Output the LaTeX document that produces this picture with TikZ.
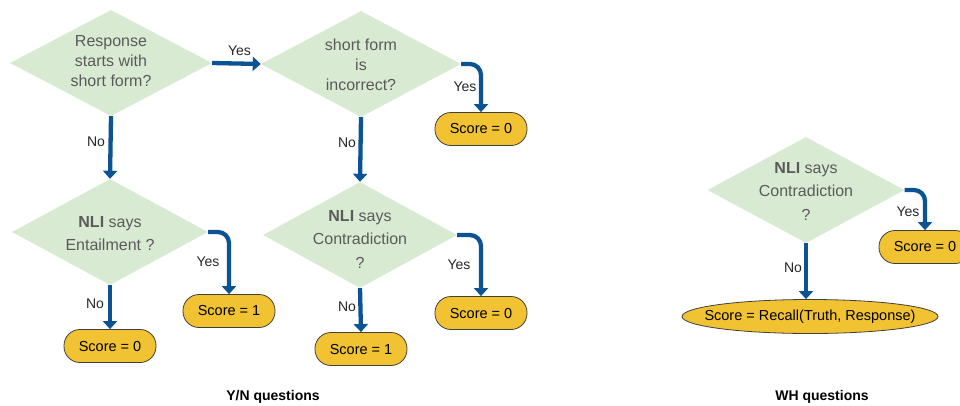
\documentclass[tikz,border=0pt]{standalone}
\usepackage{fontspec}
\setmainfont{Liberation Sans}
\usetikzlibrary{arrows.meta,shapes.geometric}
\definecolor{diafill}{HTML}{D9EAD3}
\definecolor{diatext}{HTML}{5A5A5A}
\definecolor{scorefill}{HTML}{F1C232}
\definecolor{arrowblue}{HTML}{0B5394}
\tikzset{
  x=1pt,y=-1pt,
  dia/.style={diamond,fill=diafill,draw=none,inner sep=0pt,minimum width=#1,minimum height=106pt,aspect=1.9},
  dtext/.style={align=center,text=diatext,font=\fontsize{16}{20}\selectfont,inner sep=0pt},
  dtextb/.style={align=center,text=diatext,font=\fontsize{16}{23.5}\selectfont,inner sep=0pt},
  score/.style={draw=black!75,line width=0.8pt,fill=scorefill,rounded corners=16pt,minimum width=92pt,minimum height=33pt,inner sep=0pt,font=\fontsize{14.5}{17}\selectfont},
  flow/.style={draw=arrowblue,line width=4.3pt,-{Triangle[length=8pt,width=14pt]}},
  bendflow/.style={flow,rounded corners=11pt},
  lab/.style={font=\fontsize{14}{16}\selectfont,text=black!85,inner sep=0pt},
  captext/.style={font=\bfseries\fontsize{14}{16}\selectfont,inner sep=0pt}
}
\begin{document}
\begin{tikzpicture}
\useasboundingbox (0,0) rectangle (960,405);
% Y/N section
\node[dia=202pt] (d1) at (111,63) {};
\node[dtext] (t1) at (111,61) {Response\\starts with\\short form?};
\node[dia=200pt] (d2) at (361,64) {};
\node[dtext] (t2) at (361,65) {short form\\is\\incorrect?};
\node[score] (s2) at (481,129) {Score = 0};
\node[dia=196pt] (d3) at (110,232) {};
\node[dtextb] (t3) at (110,233.5) {\textbf{NLI} says\\Entailment ?};
\node[score] (s3y) at (229,311) {Score = 1};
\node[score] (s3n) at (110,346) {Score = 0};
\node[dia=194pt] (d4) at (360,235) {};
\node[dtextb] (t4) at (360,239) {\textbf{NLI} says\\Contradiction\\?};
\node[score] (s4y) at (481,313) {Score = 0};
\node[score] (s4n) at (361,349) {Score = 1};
% WH section
\node[dia=197pt] (d5) at (806,190) {};
\node[dtextb] (t5) at (806,191) {\textbf{NLI} says\\Contradiction\\?};
\node[score] (s5y) at (925,247) {Score = 0};
\node[ellipse,draw=black!75,line width=0.8pt,fill=scorefill,minimum width=256pt,minimum height=34pt,inner sep=0pt] (e5) at (810,316.5) {};
\node[font=\fontsize{14.5}{17}\selectfont,inner sep=0pt] (te5) at (e5) {Score = Recall(Truth, Response)};
% connectors
\draw[flow] (d1.east) -- (d2.west);
\draw[flow] (d1.south) -- (d3.north);
\draw[flow] (d2.south) -- (d4.north);
\draw[bendflow] (d2.east) -| (s2.north);
\draw[bendflow] (d3.east) -| (s3y.north);
\draw[flow] (d3.south) -- (s3n.north);
\draw[bendflow] (d4.east) -| (s4y.north);
\draw[flow] (d4.south) -- (s4n.north);
\draw[bendflow] (d5.east) -| (s5y.north);
\draw[flow] (d5.south) -- (d5.south |- e5.north);
% labels
\node[lab] at (239.5,51) {Yes};
\node[lab] at (96,142) {No};
\node[lab] at (465,87) {Yes};
\node[lab] at (347,143) {No};
\node[lab] at (208,262) {Yes};
\node[lab] at (95,304) {No};
\node[lab] at (459,265) {Yes};
\node[lab] at (347,307) {No};
\node[lab] at (908,212) {Yes};
\node[lab] at (793,268) {No};
% captions
\node[captext] at (273,397) {Y/N questions};
\node[captext] at (822,397) {WH questions};
\end{tikzpicture}
\end{document}
